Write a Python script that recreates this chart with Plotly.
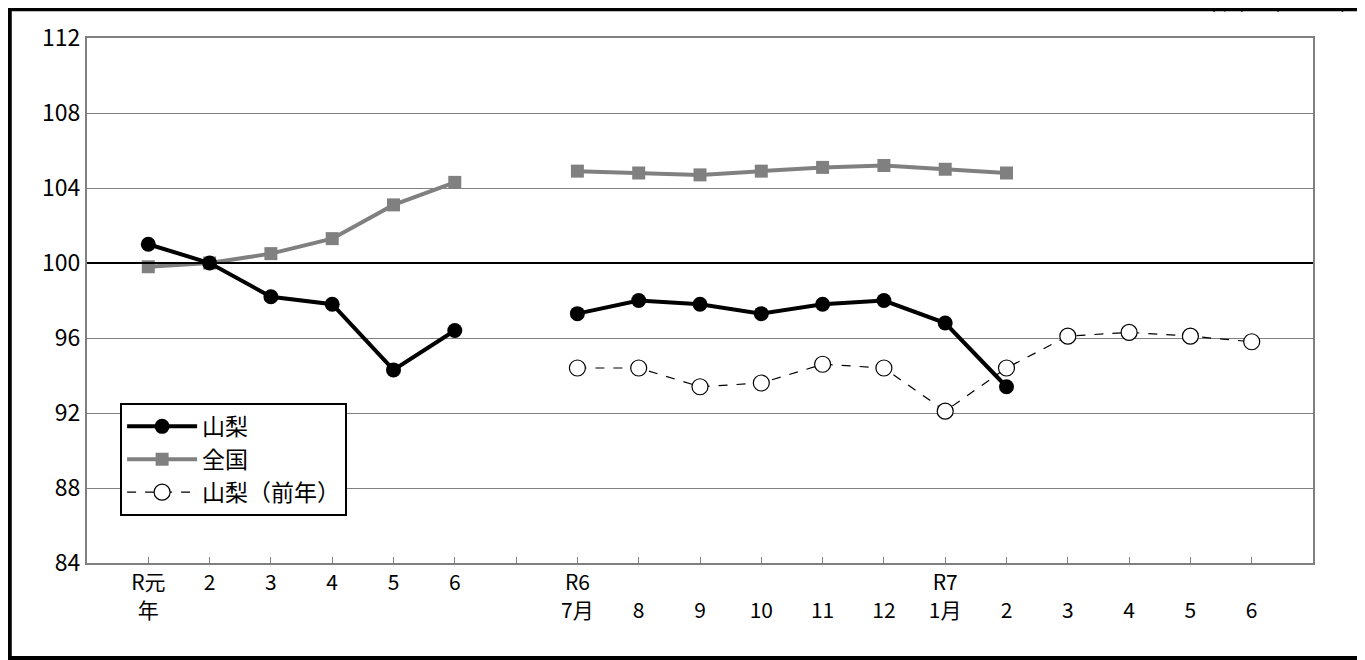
import plotly.graph_objects as go

labels = ["R元<br>年", "2", "3", "4", "5", "6", "",
          "R6<br>7月", "<br>8", "<br>9", "<br>10", "<br>11", "<br>12",
          "R7<br>1月", "<br>2", "<br>3", "<br>4", "<br>5", "<br>6"]
x_first = [0, 1, 2, 3, 4, 5]
x_second = [7, 8, 9, 10, 11, 12, 13, 14]
x_prev = [7, 8, 9, 10, 11, 12, 13, 14, 15, 16, 17, 18]

yamanashi_a = [101.0, 100.0, 98.2, 97.8, 94.3, 96.4]
yamanashi_b = [97.3, 98.0, 97.8, 97.3, 97.8, 98.0, 96.8, 93.4]
zenkoku_a = [99.8, 100.0, 100.5, 101.3, 103.1, 104.3]
zenkoku_b = [104.9, 104.8, 104.7, 104.9, 105.1, 105.2, 105.0, 104.8]
prev_year = [94.4, 94.4, 93.4, 93.6, 94.6, 94.4, 92.1, 94.4, 96.1, 96.3, 96.1, 95.8]

F = "Noto Sans CJK JP"
fig = go.Figure()
gray = "#808080"
for xs, ys, show in [(x_first, zenkoku_a, True), (x_second, zenkoku_b, False)]:
    fig.add_trace(go.Scatter(x=xs, y=ys, mode="lines+markers", name="全国", showlegend=show,
                             legendrank=2, line=dict(color=gray, width=4),
                             marker=dict(symbol="square", size=13, color=gray)))
fig.add_trace(go.Scatter(x=x_prev, y=prev_year, mode="lines+markers", name="山梨（前年）",
                         legendrank=3, line=dict(color="black", width=1.2, dash="dash"),
                         marker=dict(symbol="circle", size=16, color="white",
                                     line=dict(color="black", width=1.2))))
for xs, ys, show in [(x_first, yamanashi_a, True), (x_second, yamanashi_b, False)]:
    fig.add_trace(go.Scatter(x=xs, y=ys, mode="lines+markers", name="山梨", showlegend=show,
                             legendrank=1, line=dict(color="black", width=4),
                             marker=dict(symbol="circle", size=15, color="black")))

fig.update_layout(
    width=1365, height=660, plot_bgcolor="white", paper_bgcolor="white",
    margin=dict(l=79, r=60, t=30, b=105, autoexpand=False),
    font=dict(family=F, size=21, color="black"),
    xaxis=dict(range=[-1, 19], tickvals=list(range(19)), ticktext=labels, automargin=False,
               showgrid=False, ticks="inside", ticklen=6, tickcolor=gray,
               showline=True, linecolor=gray, linewidth=2, mirror=True, zeroline=False,
               tickfont=dict(size=21)),
    yaxis=dict(range=[84, 112], tickvals=list(range(84, 113, 4)), showgrid=True, automargin=False,
               gridcolor=gray, gridwidth=1, ticks="", showline=True, linecolor=gray,
               linewidth=2, mirror=True, zeroline=False, tickfont=dict(size=23)),
    legend=dict(x=0.027, y=0.305, xanchor="left", yanchor="top", bgcolor="white",
                bordercolor="black", borderwidth=2, font=dict(size=23),
                itemwidth=70, tracegroupgap=16, traceorder="normal"),
    shapes=[
        dict(type="line", xref="paper", yref="y", x0=0, x1=1, y0=100, y1=100,
             line=dict(color="black", width=2)),
        dict(type="rect", xref="paper", yref="paper", x0=-0.063, x1=1.040,
             y0=-0.181, y1=1.055, line=dict(color="black", width=4)),
    ],
    annotations=[dict(text="（令和2年＝100）", xref="paper", yref="paper", x=1.04, y=1.07,
                      xanchor="right", yanchor="middle", showarrow=False, font=dict(size=20))],
)
fig.write_html("out.html")
